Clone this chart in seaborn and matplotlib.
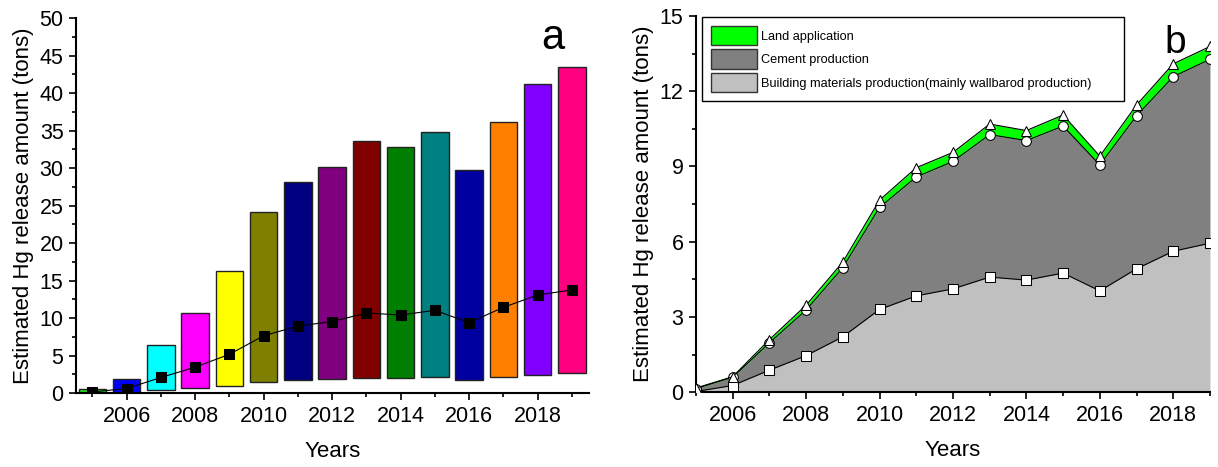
import numpy as np
import matplotlib
matplotlib.use("Agg")
import matplotlib.pyplot as plt
from matplotlib.patches import Patch
from matplotlib.ticker import MultipleLocator
import seaborn as sns

years = np.arange(2005, 2020)

# panel a: floating bars (low / high) per year
bar_low = [0.05, 0.0, 0.4, 0.66, 0.97, 1.46, 1.73, 1.86, 2.04, 2.0, 2.12, 1.8, 2.2, 2.48, 2.65]
bar_high = [0.6, 1.95, 6.4, 10.75, 16.25, 24.2, 28.1, 30.2, 33.6, 32.8, 34.8, 29.7, 36.15, 41.2, 43.5]
bar_colors = ["#22dd22", "#0000ff", "#00ffff", "#ff00ff", "#ffff00", "#808000", "#000080",
              "#800080", "#800000", "#008000", "#008080", "#0000a0", "#ff8000", "#8000ff", "#ff0080"]

# panel b: release by sector (tons)
building = [0.03, 0.27, 0.88, 1.46, 2.21, 3.30, 3.84, 4.12, 4.59, 4.47, 4.75, 4.04, 4.92, 5.62, 5.94]
cement = [0.12, 0.33, 1.09, 1.82, 2.76, 4.07, 4.74, 5.08, 5.68, 5.56, 5.86, 5.02, 6.10, 6.96, 7.33]
land = [0.02, 0.02, 0.13, 0.19, 0.22, 0.29, 0.37, 0.36, 0.42, 0.40, 0.44, 0.35, 0.43, 0.51, 0.51]
labels = ["Land application", "Cement production",
          "Building materials production(mainly wallbarod production)"]

lvl1 = np.array(building)
lvl2 = lvl1 + np.array(cement)
total = lvl2 + np.array(land)

sns.set_style("ticks")
plt.rcParams["font.family"] = ["Liberation Sans", "DejaVu Sans"]
plt.rcParams.update({"text.color": "black", "axes.labelcolor": "black",
                     "xtick.color": "black", "ytick.color": "black",
                     "axes.edgecolor": "black"})

fig = plt.figure(figsize=(12.18, 4.67), dpi=100)
ax1 = fig.add_axes([0.0624, 0.158, 0.4212, 0.803])
ax2 = fig.add_axes([0.5714, 0.160, 0.4220, 0.806])

# ---- panel a
ax1.bar(years, np.array(bar_high) - np.array(bar_low), bottom=bar_low, width=0.8,
        color=bar_colors, edgecolor="#222222", linewidth=1.0, zorder=2)
sns.lineplot(x=years, y=total, ax=ax1, color="black", lw=0.8, marker="s",
             markersize=7, markeredgecolor="black", markerfacecolor="black", zorder=3)
ax1.set_xlim(2004.52, 2019.5)
ax1.set_ylim(0, 50)
ax1.yaxis.set_major_locator(MultipleLocator(5))
ax1.yaxis.set_minor_locator(MultipleLocator(2.5))
ax1.text(2018.45, 47.3, "a", fontsize=30, ha="center", va="center")

# ---- panel b
ax2.fill_between(years, 0, lvl1, color="#c0c0c0", lw=0, zorder=1)
ax2.fill_between(years, lvl1, lvl2, color="#808080", lw=0, zorder=1)
ax2.fill_between(years, lvl2, total, color="#00ff00", lw=0, zorder=1)
sns.lineplot(x=years, y=lvl1, ax=ax2, color="black", lw=0.8, marker="s", markersize=6.5,
             markerfacecolor="white", markeredgecolor="black", zorder=3)
sns.lineplot(x=years, y=lvl2, ax=ax2, color="black", lw=0.8, marker="o", markersize=7,
             markerfacecolor="white", markeredgecolor="black", zorder=3)
sns.lineplot(x=years, y=total, ax=ax2, color="black", lw=0.8, marker="^", markersize=7.5,
             markerfacecolor="white", markeredgecolor="black", zorder=3)
ax2.set_xlim(2005, 2019)
ax2.set_ylim(0, 15)
ax2.yaxis.set_major_locator(MultipleLocator(3))
ax2.yaxis.set_minor_locator(MultipleLocator(1.5))
ax2.text(2018.05, 13.9, "b", fontsize=28, ha="center", va="center")

handles = [Patch(facecolor=c, edgecolor="#333333", lw=1.0) for c in ["#00ff00", "#808080", "#c0c0c0"]]
leg = ax2.legend(handles, labels, loc="upper left", bbox_to_anchor=(0.012, 0.0, 0.821, 0.998),
                 mode="expand", borderaxespad=0, fontsize=9.2, frameon=True, fancybox=False,
                 framealpha=1, edgecolor="black", handlelength=3.6, handleheight=2.0,
                 labelspacing=0.3, handletextpad=0.3, borderpad=0.7)
leg.get_frame().set_linewidth(1.0)

for ax in (ax1, ax2):
    ax.xaxis.set_major_locator(MultipleLocator(2))
    ax.xaxis.set_minor_locator(MultipleLocator(1))
    ax.tick_params(which="major", length=5, width=1.2, labelsize=15.5, pad=4)
    ax.tick_params(which="minor", length=3, width=1.2)
    for s in ("left", "bottom"):
        ax.spines[s].set_linewidth(1.5)
    sns.despine(ax=ax)
    ax.set_xlabel("Years", fontsize=16, labelpad=10)
    ax.set_ylabel("Estimated Hg release amount (tons)", fontsize=16)

fig.savefig("out.png", dpi=100)
